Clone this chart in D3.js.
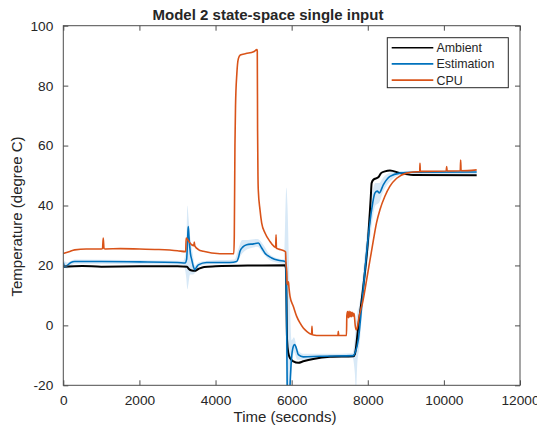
<!DOCTYPE html>
<html>
<head>
<meta charset="utf-8">
<script src="https://cdn.jsdelivr.net/npm/d3@7"></script>
<style>
  body { margin: 0; background: #fff; }
  text { font-family: "Liberation Sans", Arial, Helvetica, sans-serif; fill: #262626; }
</style>
</head>
<body>
<script>
// time in seconds, temperatures in degree C
var ambientT = [0, 500, 1000, 2000, 3000, 3250, 3300, 3373, 3450, 3550, 3700, 4000, 5000, 5825, 5850, 5880, 5912, 5960,
  6045, 6175, 6306, 6568, 7007, 7620, 7664, 7752, 7883, 8014, 8080, 8102, 8146, 8277, 8350, 8452, 8584, 8846, 9196, 10862];
var ambientY = [19.6, 19.8, 19.6, 19.7, 19.7, 19.6, 18.8, 18.3, 18.2, 18.8, 19.5, 19.7, 20.0, 20.1, 19, -5, -9.2, -11,
  -12.0, -12.5, -12.0, -11.2, -10.5, -10.3, -9.5, -0.3, 13, 29.7, 43, 47.5, 48.6, 49.4, 50.8, 51.4, 51.7, 50.8, 50.2, 50.1];

var estT = [0, 40, 80, 200, 300, 1000, 2000, 3000, 3200, 3240, 3270, 3283, 3300, 3340, 3373, 3420, 3460, 3500, 3547, 3766,
  4380, 4556, 4600, 4643, 4720, 4818, 5000, 5124, 5213, 5300, 5475, 5650, 5825, 5845, 5870, 5890, 5910, 5950, 5990,
  6045, 6080, 6120, 6175, 6306, 6744, 7620, 7664, 7752, 7840, 7927, 8014, 8102, 8190, 8250, 8303, 8408, 8584, 8846, 9196, 10862];
var estY = [21.0, 19.6, 19.8, 21.0, 21.3, 21.3, 21.2, 21.0, 20.8, 22, 30, 33.0, 30, 24, 22, 19.5, 18.6, 19.4, 20.2, 21.0,
  21.0, 21.3, 22.5, 24.7, 26.2, 26.9, 27.2, 27.5, 25.8, 24.1, 22.5, 21.7, 21.3, 21, 0, -30, -32, -22, -12,
  -7, -6.4, -7.5, -9.8, -10.5, -10.3, -10.1, -9.2, -4.8, 6.3, 18.6, 29.7, 38.6, 44.2, 44.8, 44.2, 46.9, 49.7, 50.8, 51.1, 51.2];

// confidence band of the estimation
var bandT = [0, 100, 300, 3150, 3230, 3260, 3290, 3330, 3400, 3460, 3550, 3800, 4500, 4600, 4700, 4850, 5100, 5250, 5400,
  5600, 5800, 5830, 5860, 5890, 5950, 6000, 6060, 6150, 6300, 7000, 7600, 7660, 7690, 7720, 7780, 7840, 7930, 8010, 8100,
  8200, 8300, 8400, 8600, 8900, 10862];
var bandLo = [19.5, 19.0, 20.6, 20.2, 16, 12, 14, 17, 17, 17.5, 19.5, 20.4, 20.6, 22, 24, 25.5, 26.2, 24, 22,
  21, 20.5, 15, -20, -25, -22, -15, -9, -11.5, -11.5, -11, -10.8, -16, -22, -14, -7, 2, 13, 23, 33,
  40, 41, 44.5, 48.3, 50.3, 50.5];
var bandHi = [22.0, 21.0, 22.0, 21.6, 26, 40, 36, 30, 24, 20, 21, 21.6, 22, 25.5, 28.5, 28.5, 28.8, 27, 24,
  22.5, 22, 35, 46, 40, 10, -5, -4, -8, -9.5, -9.5, -9.3, -4, 1, 4, 7, 13, 25, 35, 43,
  47.5, 47.5, 49.3, 51, 51.5, 51.8];

var cpuT = [0, 150, 300, 600, 1000, 1030, 1050, 1070, 1100, 1500, 2000, 2500, 3000, 3215, 3228, 3300, 3373, 3430, 3442, 3455,
  3550, 3679, 4117, 4480, 4493, 4510, 4525, 4560, 4600, 4650, 4800, 5000, 5090, 5097, 5105, 5115, 5124, 5168, 5213, 5300,
  5431, 5562, 5580, 5590, 5600, 5650, 5825, 5840, 5851, 5870, 5880, 5900, 5915, 5930, 5957, 6045, 6132, 6219, 6306, 6395,
  6482, 6525, 6534, 6545, 6568, 6744, 7215, 7226, 7237, 7440, 7450, 7470, 7490, 7510, 7530, 7550, 7570, 7590, 7610, 7630,
  7645, 7670, 7700, 7730, 7760, 7880, 7970, 8060, 8150, 8230, 8320, 8450, 8580, 8760, 9020, 9350, 9365, 9372, 9380, 9500,
  10060, 10073, 10086, 10430, 10441, 10452, 10862];
var cpuY = [24.0, 24.6, 25.2, 25.5, 25.5, 25.6, 29.1, 25.6, 25.5, 25.6, 25.5, 25.3, 24.9, 24.6, 29.1, 28.0, 26.9, 26.6, 27.8, 26.5,
  25.3, 24.7, 23.9, 23.9, 30, 60, 73, 84, 89, 90.2, 90.7, 91.3, 92, 91.5, 65, 50, 45, 38.6, 34.1, 30.8,
  28, 26.1, 26.0, 30.2, 25.8, 25.5, 24.7, 24.5, 20.8, 18, 14, 13.6, 14.5, 12.5, 9.7, 6.3, 3.0, 0.8, -0.9, -2.0,
  -2.8, -3.0, -0.3, -3.1, -3.2, -3.4, -3.4, -2.0, -3.4, -3.4, 3.2, 4.6, 2.6, 4.7, 2.8, 4.5, 2.9, 4.4, 3.0, 4.0,
  3.5, 0, -1.5, -0.5, 2, 8.6, 15.2, 21.9, 28.6, 34.2, 38.6, 43.1, 46.4, 49.1, 50.8, 51.3, 51.3, 54.1, 51.4, 51.4,
  51.5, 53.0, 51.5, 51.6, 55.2, 51.6, 51.9];

var xTicks = [0, 2000, 4000, 6000, 8000, 10000, 12000];
var yTicks = [-20, 0, 20, 40, 60, 80, 100];

var seriesNames = ["Ambient", "Estimation", "CPU"];
var seriesColors = ["#000000", "#0072bd", "#d95319"];

var width = 537, height = 430;
var margin = {top: 25.7, right: 17, bottom: 44.7, left: 63.3};

var svg = d3.select("body").append("svg")
  .attr("width", width)
  .attr("height", height);

var x = d3.scaleLinear().domain([0, 12000]).range([margin.left, width - margin.right]);
var y = d3.scaleLinear().domain([-20, 100]).range([height - margin.bottom, margin.top]);

svg.append("clipPath").attr("id", "clip")
  .append("rect")
  .attr("x", x(0)).attr("y", y(100))
  .attr("width", x(12000) - x(0)).attr("height", y(-20) - y(100));

var plot = svg.append("g").attr("clip-path", "url(#clip)");

var bandData = bandT.map(function(t, i) { return {t: t, lo: bandLo[i], hi: bandHi[i]}; });
var area = d3.area()
  .curve(d3.curveMonotoneX)
  .x(function(d) { return x(d.t); })
  .y0(function(d) { return y(d.lo); })
  .y1(function(d) { return y(d.hi); });

plot.append("path")
  .datum(bandData)
  .attr("d", area)
  .attr("fill", "#d8e9f7")
  .attr("stroke", "none");

var line = d3.line()
  .curve(d3.curveMonotoneX)
  .x(function(d) { return x(d[0]); })
  .y(function(d) { return y(d[1]); });

function zip(ts, vs) { return ts.map(function(t, i) { return [t, vs[i]]; }); }

var series = [zip(ambientT, ambientY), zip(estT, estY), zip(cpuT, cpuY)];
var widths = [2, 1.6, 1.6];

series.forEach(function(s, i) {
  plot.append("path")
    .datum(s)
    .attr("d", line)
    .attr("fill", "none")
    .attr("stroke", seriesColors[i])
    .attr("stroke-width", widths[i])
    .attr("stroke-linejoin", "round");
});

// axes, ticks pointing inward like matlab
var fmt = function(d) { return String(d); };
var axisColor = "#4d4d4d";

var xAxis = svg.append("g")
  .attr("transform", "translate(0," + y(-20) + ")")
  .call(d3.axisBottom(x).tickValues(xTicks).tickFormat(fmt).tickSizeInner(-5).tickSizeOuter(0).tickPadding(9.7));
var yAxis = svg.append("g")
  .attr("transform", "translate(" + x(0) + ",0)")
  .call(d3.axisLeft(y).tickValues(yTicks).tickFormat(fmt).tickSizeInner(-5).tickSizeOuter(0).tickPadding(10));
var xTop = svg.append("g")
  .attr("transform", "translate(0," + y(100) + ")")
  .call(d3.axisTop(x).tickValues(xTicks).tickFormat("").tickSizeInner(-5).tickSizeOuter(0));
var yRight = svg.append("g")
  .attr("transform", "translate(" + x(12000) + ",0)")
  .call(d3.axisRight(y).tickValues(yTicks).tickFormat("").tickSizeInner(-5).tickSizeOuter(0));

[xAxis, yAxis, xTop, yRight].forEach(function(a) {
  a.select(".domain").remove();
  a.selectAll(".tick line").attr("stroke", axisColor);
  a.selectAll(".tick text")
    .style("font-family", "'Liberation Sans', Arial, Helvetica, sans-serif")
    .style("font-size", "13.7px")
    .attr("fill", "#262626");
});

svg.append("rect")
  .attr("x", x(0)).attr("y", y(100))
  .attr("width", x(12000) - x(0)).attr("height", y(-20) - y(100))
  .attr("fill", "none")
  .attr("stroke", axisColor)
  .attr("stroke-width", 1);

// title and axis labels
svg.append("text")
  .attr("x", 268).attr("y", 19.5)
  .attr("text-anchor", "middle")
  .style("font-size", "15px")
  .style("font-weight", "bold")
  .attr("fill", "#000")
  .text("Model 2 state-space single input");

svg.append("text")
  .attr("x", 285).attr("y", 422)
  .attr("text-anchor", "middle")
  .style("font-size", "15px")
  .text("Time (seconds)");

svg.append("text")
  .attr("transform", "translate(22," + 216.5 + ") rotate(-90)")
  .attr("text-anchor", "middle")
  .style("font-size", "15px")
  .text("Temperature (degree C)");

// legend
var legend = svg.append("g");
legend.append("rect")
  .attr("x", 387.3).attr("y", 37.7)
  .attr("width", 121).attr("height", 50)
  .attr("fill", "#fff")
  .attr("stroke", "#262626")
  .attr("stroke-width", 1);

var entries = legend.selectAll(".entry")
  .data(seriesNames)
  .enter().append("g")
  .attr("class", "entry")
  .attr("transform", function(d, i) { return "translate(0," + (47.7 + i * 16.2) + ")"; });

entries.append("line")
  .attr("x1", 391.7).attr("x2", 433.3)
  .attr("stroke", function(d, i) { return seriesColors[i]; })
  .attr("stroke-width", 1.6);

entries.append("text")
  .attr("x", 436.5)
  .attr("dy", "0.36em")
  .style("font-size", "12.4px")
  .attr("fill", "#000")
  .text(function(d) { return d; });
</script>
</body>
</html>
